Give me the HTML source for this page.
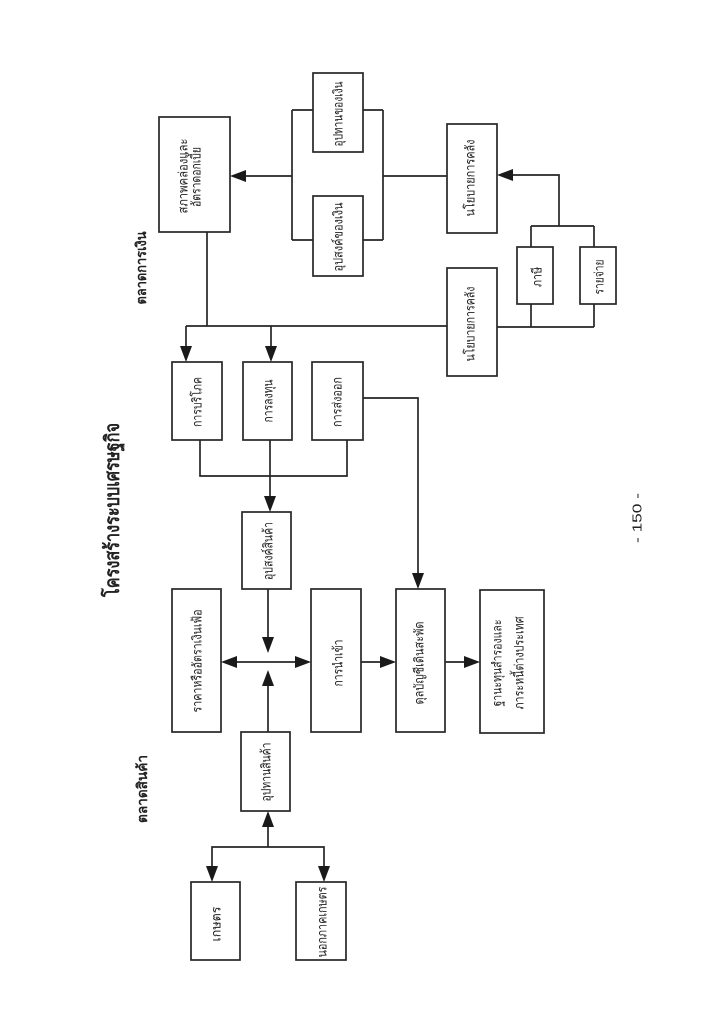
<!DOCTYPE html>
<html>
<head>
<meta charset="utf-8">
<style>
  html,body{margin:0;padding:0;background:#fff;}
  body{width:704px;height:1023px;overflow:hidden;}
  svg{display:block;}
  text{font-family:"Liberation Sans","DejaVu Sans","Noto Sans CJK SC",sans-serif;fill:#222;}
  .t{font-size:13px;}
  .b{font-weight:bold;}
</style>
</head>
<body>
<svg width="704" height="1023" viewBox="0 0 704 1023" xmlns="http://www.w3.org/2000/svg">
  <rect x="0" y="0" width="704" height="1023" fill="#fff"/>
  <g fill="none" stroke="#262626" stroke-width="1.7">
    <!-- money market boxes -->
    <rect x="159" y="117" width="71" height="115"/>
    <rect x="313" y="73" width="50" height="79"/>
    <rect x="313" y="196" width="50" height="80"/>
    <rect x="447" y="124" width="50" height="109"/>
    <rect x="517" y="247" width="36" height="57"/>
    <rect x="580" y="247" width="36" height="57"/>
    <rect x="447" y="268" width="50" height="108"/>
    <!-- goods market boxes -->
    <rect x="172" y="362" width="50" height="78"/>
    <rect x="243" y="362" width="49" height="78"/>
    <rect x="312" y="362" width="51" height="78"/>
    <rect x="242" y="512" width="49" height="77"/>
    <rect x="172" y="589" width="49" height="143"/>
    <rect x="311" y="589" width="50" height="143"/>
    <rect x="396" y="589" width="49" height="143"/>
    <rect x="480" y="590" width="64" height="143"/>
    <rect x="241" y="732" width="49" height="79"/>
    <rect x="191" y="882" width="49" height="78"/>
    <rect x="296" y="882" width="50" height="78"/>

    <!-- connectors: money -->
    <path d="M244 176 H292"/>
    <path d="M292 110 V240 M292 110 H313 M292 240 H313"/>
    <path d="M383 110 V240 M363 110 H383 M363 240 H383"/>
    <path d="M383 176 H447"/>
    <path d="M511 175 H559 V226 M531 226 H594 M531 226 V247 M594 226 V247"/>
    <path d="M531 304 V327 M594 304 V327 M497 327 H594"/>
    <path d="M186 326 H447"/>
    <path d="M207 232 V326"/>
    <path d="M186 326 V348 M271 326 V348"/>
    <!-- connectors: goods -->
    <path d="M200 440 V476 H347 V440"/>
    <path d="M270 440 V498"/>
    <path d="M363 398 H418 V575"/>
    <path d="M268 589 V639"/>
    <path d="M235 662 H297"/>
    <path d="M268 732 V684"/>
    <path d="M361 662 H382 M445 662 H466"/>
    <path d="M268 847 V825"/>
    <path d="M212 868 V847 H324 V868"/>
  </g>
  <g fill="#1a1a1a" stroke="none">
    <polygon points="230,176 246,170 246,182"/>
    <polygon points="497,175 513,169 513,181"/>
    <polygon points="186,362 180,346 192,346"/>
    <polygon points="271,362 265,346 277,346"/>
    <polygon points="270,512 264,496 276,496"/>
    <polygon points="418,589 412,573 424,573"/>
    <polygon points="268,653 262,637 274,637"/>
    <polygon points="221,662 237,656 237,668"/>
    <polygon points="311,662 295,656 295,668"/>
    <polygon points="268,670 262,686 274,686"/>
    <polygon points="396,662 380,656 380,668"/>
    <polygon points="480,662 464,656 464,668"/>
    <polygon points="268,811 262,827 274,827"/>
    <polygon points="212,882 206,866 218,866"/>
    <polygon points="324,882 318,866 330,866"/>
  </g>

  <!-- headings -->
  <text class="b" font-size="20" text-anchor="middle" dominant-baseline="central" transform="translate(113,510) rotate(-90)" textLength="174" lengthAdjust="spacingAndGlyphs">โครงสร้างระบบเศรษฐกิจ</text>
  <text class="b" font-size="14" text-anchor="middle" dominant-baseline="central" transform="translate(142,789) rotate(-90)" textLength="68" lengthAdjust="spacingAndGlyphs">ตลาดสินค้า</text>
  <text class="b" font-size="14" text-anchor="middle" dominant-baseline="central" transform="translate(141,268) rotate(-90)" textLength="73" lengthAdjust="spacingAndGlyphs">ตลาดการเงิน</text>
  <text font-size="13" text-anchor="middle" dominant-baseline="central" transform="translate(637,518) rotate(-90)" textLength="50" lengthAdjust="spacingAndGlyphs">- 150 -</text>

  <!-- box labels -->
  <g class="t" text-anchor="middle" dominant-baseline="central">
    <text transform="translate(183,176) rotate(-90)" textLength="75" lengthAdjust="spacingAndGlyphs">สภาพคล่องและ</text>
    <text transform="translate(196,177) rotate(-90)" textLength="60" lengthAdjust="spacingAndGlyphs">อัตราดอกเบี้ย</text>
    <text transform="translate(338,114) rotate(-90)" textLength="65" lengthAdjust="spacingAndGlyphs">อุปทานของเงิน</text>
    <text transform="translate(338,237) rotate(-90)" textLength="69" lengthAdjust="spacingAndGlyphs">อุปสงค์ของเงิน</text>
    <text transform="translate(470,178) rotate(-90)" textLength="77" lengthAdjust="spacingAndGlyphs">นโยบายการคลัง</text>
    <text transform="translate(537,277) rotate(-90)" textLength="20" lengthAdjust="spacingAndGlyphs">ภาษี</text>
    <text transform="translate(599,277) rotate(-90)" textLength="35" lengthAdjust="spacingAndGlyphs">รายจ่าย</text>
    <text transform="translate(470,324) rotate(-90)" textLength="75" lengthAdjust="spacingAndGlyphs">นโยบายการคลัง</text>
    <text transform="translate(197,402) rotate(-90)" textLength="50" lengthAdjust="spacingAndGlyphs">การบริโภค</text>
    <text transform="translate(268,401) rotate(-90)" textLength="43" lengthAdjust="spacingAndGlyphs">การลงทุน</text>
    <text transform="translate(337,402) rotate(-90)" textLength="50" lengthAdjust="spacingAndGlyphs">การส่งออก</text>
    <text transform="translate(268,551) rotate(-90)" textLength="58" lengthAdjust="spacingAndGlyphs">อุปสงค์สินค้า</text>
    <text transform="translate(197,661) rotate(-90)" textLength="103" lengthAdjust="spacingAndGlyphs">ราคาหรืออัตราเงินเฟ้อ</text>
    <text transform="translate(338,663) rotate(-90)" textLength="47" lengthAdjust="spacingAndGlyphs">การนำเข้า</text>
    <text transform="translate(419,663) rotate(-90)" textLength="83" lengthAdjust="spacingAndGlyphs">ดุลบัญชีเดินสะพัด</text>
    <text transform="translate(497,663) rotate(-90)" textLength="87" lengthAdjust="spacingAndGlyphs">ฐานะทุนสำรองและ</text>
    <text transform="translate(519,663) rotate(-90)" textLength="93" lengthAdjust="spacingAndGlyphs">ภาระหนี้ต่างประเทศ</text>
    <text transform="translate(266,772) rotate(-90)" textLength="59" lengthAdjust="spacingAndGlyphs">อุปทานสินค้า</text>
    <text transform="translate(216,924) rotate(-90)" textLength="35" lengthAdjust="spacingAndGlyphs">เกษตร</text>
    <text transform="translate(322,922) rotate(-90)" textLength="71" lengthAdjust="spacingAndGlyphs">นอกภาคเกษตร</text>
  </g>
</svg>
</body>
</html>
